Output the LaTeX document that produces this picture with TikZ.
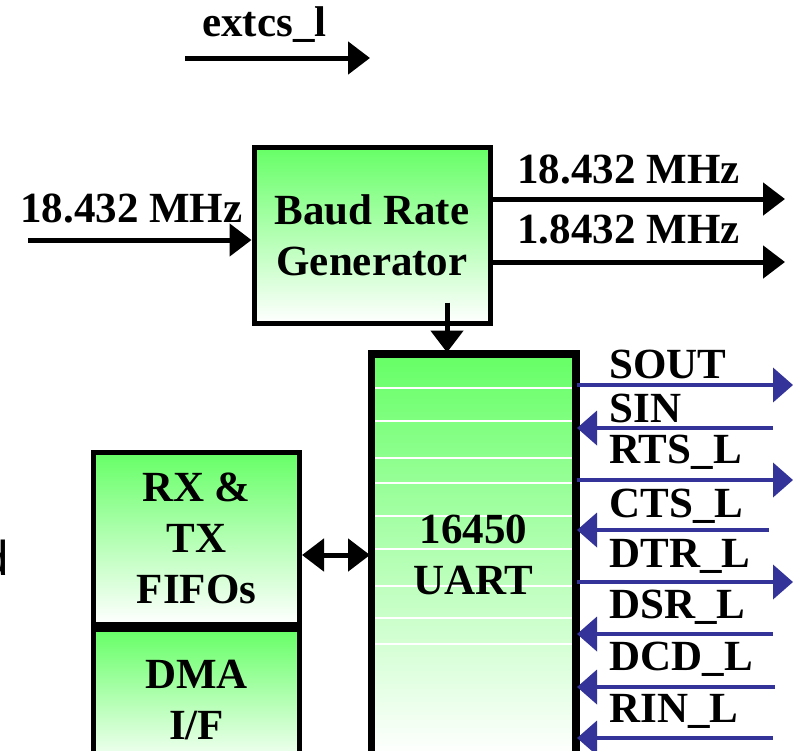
\documentclass[tikz,border=0pt]{standalone}
\usepackage{fontspec}
\setmainfont{Liberation Serif}
\newfontfamily\armfont{Liberation Sans}
\usepackage{xcolor}
\usepackage{tikz}
\usetikzlibrary{positioning,arrows.meta}

\definecolor{boxgreen}{RGB}{102,255,102}
\definecolor{sigblue}{RGB}{51,51,153}

\begin{document}
\begin{tikzpicture}[
  x=0.5pt, y=-0.5pt,
  block/.style={rectangle, draw, line width=2.5pt, top color=boxgreen, bottom color=white,
                align=center, inner sep=0pt, font=\bfseries\fontsize{21.5}{25.5}\selectfont},
  lbl/.style={inner sep=0pt, font=\bfseries\fontsize{21.5}{25.5}\selectfont},
  arrow/.style={-{Triangle[length=11pt,width=16pt]}, line width=2.5pt},
  dblarrow/.style={{Triangle[length=11pt,width=16pt]}-{Triangle[length=11pt,width=16pt]}, line width=2.5pt},
  sigout/.style={-{Triangle[length=10pt,width=17pt]}, line width=2pt, draw=sigblue},
  sigin/.style={{Triangle[length=10pt,width=17pt]}-, line width=2pt, draw=sigblue}
]
\useasboundingbox (0,0) rectangle (795,750);

% Blocks
\node[block, minimum width=118pt, minimum height=88pt] (baud) at (372,235) {Baud Rate\\Generator};
\node[block, minimum width=101pt, minimum height=200pt] (uart) at (473.5,555) {};
\foreach \yy in {388,421,458,483,516,549,586,618,644}
  \draw[white, line width=0.6pt] (375,\yy) -- (572,\yy);
\draw[line width=2.5pt] (uart.south west) rectangle (uart.north east);
\node[lbl, align=center] (uarttxt) at (uart) {16450\\UART};
\node[block, minimum width=103pt, minimum height=86pt] (fifo) at (196.5,538) {RX \&\\TX\\FIFOs};
\node[block, minimum width=103pt, minimum height=70.5pt, below=0pt of fifo] (dma) {DMA\\I/F};

% Clock in / out
\coordinate (clkin) at (28,240);
\coordinate (clkout) at (785,199);
\coordinate (clkdiv) at (785,262);
\draw[arrow] (clkin) -- (baud.west |- clkin);
\draw[arrow] (baud.east |- clkout) -- (clkout);
\draw[arrow] (baud.east |- clkdiv) -- (clkdiv);
\node[lbl, anchor=base west] (inlbl)  at (20,222)  {18.432 MHz};
\node[lbl, anchor=base west] (outlbl) at (517,183) {18.432 MHz};
\node[lbl, anchor=base west] (divlbl) at (517,243) {1.8432 MHz};

% extcs_l
\coordinate (csa) at (185,58);
\coordinate (csb) at (370,58);
\draw[arrow] (csa) -- (csb);
\node[lbl, anchor=base west] (cslbl) at (202,36) {extcs\_l};

% Internal connections
\draw[arrow] ([xshift=37.5pt,yshift=11.5pt]baud.south) -- ([xshift=37.5pt]baud.south |- uart.north);
\draw[dblarrow] ([yshift=-8.5pt]fifo.east) -- ([yshift=-8.5pt]fifo.east -| uart.west);

% Serial signals
\coordinate (sout) at (793,385);
\coordinate (sin)  at (773,428);
\coordinate (rts)  at (793,480);
\coordinate (cts)  at (769,530);
\coordinate (dtr)  at (793,582);
\coordinate (dsr)  at (773,634);
\coordinate (dcd)  at (775,687);
\coordinate (rin)  at (773,738);
\draw[sigout] (uart.east |- sout) -- (sout);
\draw[sigin]  (uart.east |- sin)  -- (sin);
\draw[sigout] (uart.east |- rts)  -- (rts);
\draw[sigin]  (uart.east |- cts)  -- (cts);
\draw[sigout] (uart.east |- dtr)  -- (dtr);
\draw[sigin]  (uart.east |- dsr)  -- (dsr);
\draw[sigin]  (uart.east |- dcd)  -- (dcd);
\draw[sigin]  (uart.east |- rin)  -- (rin);
\node[lbl, anchor=base west] (lsout) at (609,378) {SOUT};
\node[lbl, anchor=base west] (lsin)  at (609,422) {SIN};
\node[lbl, anchor=base west] (lrts)  at (609,463) {RTS\_L};
\node[lbl, anchor=base west] (lcts)  at (609,517) {CTS\_L};
\node[lbl, anchor=base west] (ldtr)  at (609,567) {DTR\_L};
\node[lbl, anchor=base west] (ldsr)  at (609,618) {DSR\_L};
\node[lbl, anchor=base west] (ldcd)  at (609,670) {DCD\_L};
\node[lbl, anchor=base west] (lrin)  at (609,722) {RIN\_L};

% Cut-off text at the left edge
\node[inner sep=0pt, anchor=base east, font=\armfont\fontsize{24.5}{28}\selectfont] (cut) at (9,575) {d};

\end{tikzpicture}
\end{document}
